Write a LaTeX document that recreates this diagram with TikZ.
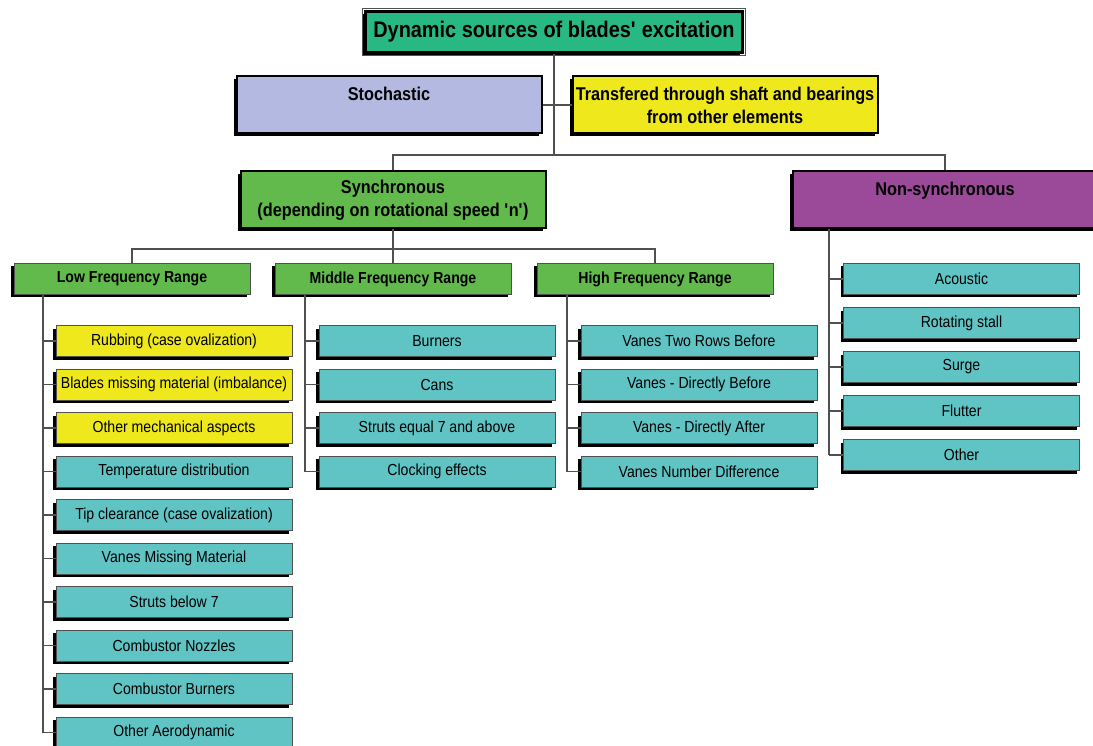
\documentclass[tikz,border=0pt]{standalone}
\usepackage{fontspec}
\setmainfont[FakeStretch=0.88]{Liberation Sans}
\usetikzlibrary{shadows}

\definecolor{titlegreen}{RGB}{40,184,132}
\definecolor{lavender}{RGB}{180,185,225}
\definecolor{lemon}{RGB}{238,232,28}
\definecolor{leafgreen}{RGB}{98,186,76}
\definecolor{plum}{RGB}{154,74,152}
\definecolor{aqua}{RGB}{96,196,196}
\definecolor{wire}{RGB}{80,80,80}

\newcommand{\sq}{\textquotesingle}

\tikzset{
  hardshadow/.style={drop shadow={shadow xshift=-#1, shadow yshift=-#1, fill=black, opacity=1}},
  headbox/.style={draw=black, line width=2.5pt, fill=titlegreen, minimum width=377pt, minimum height=41pt,
    inner sep=2pt, font=\fontsize{22.6}{26}\selectfont\bfseries, hardshadow=3pt},
  topbox/.style={draw=black, line width=2pt, minimum width=305pt, minimum height=57pt, inner sep=2pt,
    align=center, font=\fontsize{18.5}{23}\selectfont\bfseries, hardshadow=3pt},
  rangebox/.style={draw=wire, line width=0.8pt, fill=leafgreen, minimum width=236pt, minimum height=31pt,
    inner sep=2pt, font=\fontsize{16}{19}\selectfont\bfseries, hardshadow=3pt},
  leaf/.style={draw=wire, line width=0.8pt, fill=aqua, minimum width=236pt, minimum height=31pt,
    inner sep=2pt, font=\fontsize{16}{19}\selectfont, hardshadow=3pt},
  link/.style={draw=wire, line width=1.1pt}
}

\begin{document}
\begin{tikzpicture}[x=1pt,y=-1pt]

\useasboundingbox (0,0) rectangle (1093,746);
\clip (0,0) rectangle (1093,746);

% top of the tree
\node (title) at (554, 32) [headbox] {Dynamic sources of blades\sq{} excitation};
\draw [wire, line width=0.8pt] ([shift={(-1.5,-1.5)}]title.north west) rectangle ([shift={(1.5,1.5)}]title.south east);

\node (stoch) at (389, 105) [topbox, fill=lavender] {Stochastic\\~};
\node (trans) at (725, 105) [topbox, fill=lemon] {Transfered through shaft and bearings\\from other elements};

\node (sync) at (393, 200) [topbox, fill=leafgreen] {Synchronous\\(depending on rotational speed \sq n\sq)};
\node (nonsync) at (945, 200) [topbox, fill=plum] {Non-synchronous\\~};

\coordinate (b1) at (554, 155);
\coordinate (b2) at (393, 249);

\draw [link] (title.south) -- (b1);
\draw [link] (stoch.east) -- (trans.west);
\draw [link] (sync.north) |- (b1) -| (nonsync.north);

% frequency ranges
\node (low) at (132, 279) [rangebox] {Low Frequency Range};
\node (mid) at (393, 279) [rangebox] {Middle Frequency Range};
\node (high) at (655, 279) [rangebox] {High Frequency Range};

\draw [link] (sync.south) -- (mid.north);
\draw [link] (low.north) |- (b2) -| (high.north);

% low frequency
\node (l1) at (174, 341) [leaf, fill=lemon] {Rubbing (case ovalization)};
\node (l2) at (174, 384.5) [leaf, fill=lemon] {Blades missing material (imbalance)};
\node (l3) at (174, 428) [leaf, fill=lemon] {Other mechanical aspects};
\node (l4) at (174, 471.5) [leaf] {Temperature distribution};
\node (l5) at (174, 515) [leaf] {Tip clearance (case ovalization)};
\node (l6) at (174, 558.5) [leaf] {Vanes Missing Material};
\node (l7) at (174, 602) [leaf] {Struts below 7};
\node (l8) at (174, 645.5) [leaf] {Combustor Nozzles};
\node (l9) at (174, 689) [leaf] {Combustor Burners};
\node (l10) at (174, 732.5) [leaf] {Other Aerodynamic};

\coordinate (lbus) at (43, 732.5);
\draw [link] (lbus |- low.south) -- (lbus);
\draw [link] (l1.west) -- (l1.west -| lbus);
\draw [link] (l2.west) -- (l2.west -| lbus);
\draw [link] (l3.west) -- (l3.west -| lbus);
\draw [link] (l4.west) -- (l4.west -| lbus);
\draw [link] (l5.west) -- (l5.west -| lbus);
\draw [link] (l6.west) -- (l6.west -| lbus);
\draw [link] (l7.west) -- (l7.west -| lbus);
\draw [link] (l8.west) -- (l8.west -| lbus);
\draw [link] (l9.west) -- (l9.west -| lbus);
\draw [link] (l10.west) -- (l10.west -| lbus);

% middle frequency
\node (m1) at (437, 341) [leaf] {Burners};
\node (m2) at (437, 384.5) [leaf] {Cans};
\node (m3) at (437, 428) [leaf] {Struts equal 7 and above};
\node (m4) at (437, 471.5) [leaf] {Clocking effects};

\coordinate (mbus) at (305, 471.5);
\draw [link] (mbus |- mid.south) -- (mbus);
\draw [link] (m1.west) -- (m1.west -| mbus);
\draw [link] (m2.west) -- (m2.west -| mbus);
\draw [link] (m3.west) -- (m3.west -| mbus);
\draw [link] (m4.west) -- (m4.west -| mbus);

% high frequency
\node (h1) at (699, 341) [leaf] {Vanes Two Rows Before};
\node (h2) at (699, 384.5) [leaf] {Vanes - Directly Before};
\node (h3) at (699, 428) [leaf] {Vanes - Directly After};
\node (h4) at (699, 471.5) [leaf] {Vanes Number Difference};

\coordinate (hbus) at (567, 471.5);
\draw [link] (hbus |- high.south) -- (hbus);
\draw [link] (h1.west) -- (h1.west -| hbus);
\draw [link] (h2.west) -- (h2.west -| hbus);
\draw [link] (h3.west) -- (h3.west -| hbus);
\draw [link] (h4.west) -- (h4.west -| hbus);

% non-synchronous
\node (n1) at (961.5, 279) [leaf] {Acoustic};
\node (n2) at (961.5, 323) [leaf] {Rotating stall};
\node (n3) at (961.5, 367) [leaf] {Surge};
\node (n4) at (961.5, 411) [leaf] {Flutter};
\node (n5) at (961.5, 455) [leaf] {Other};

\coordinate (nbus) at (829, 455);
\draw [link] (nbus |- nonsync.south) -- (nbus);
\draw [link] (n1.west) -- (n1.west -| nbus);
\draw [link] (n2.west) -- (n2.west -| nbus);
\draw [link] (n3.west) -- (n3.west -| nbus);
\draw [link] (n4.west) -- (n4.west -| nbus);
\draw [link] (n5.west) -- (n5.west -| nbus);

\end{tikzpicture}
\end{document}
